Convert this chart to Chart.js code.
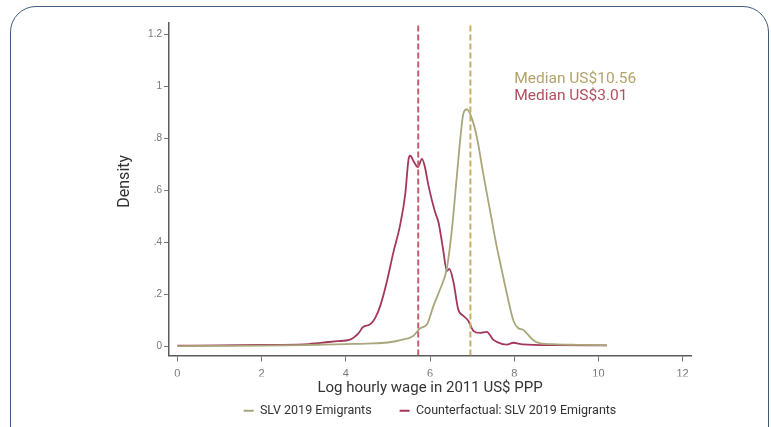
<!DOCTYPE html>
<html>
<head>
<meta charset="utf-8">
<title>Log hourly wage density</title>
<script src="https://cdn.jsdelivr.net/npm/chart.js@4.4.1/dist/chart.umd.min.js"></script>
<style>
   html, body { margin: 0; padding: 0; background: #fff; width: 771px; height: 427px; overflow: hidden; }
   #frame {
      position: absolute; left: 10px; top: 6px; width: 757px; height: 450px;
      border: 1.5px solid #3f5d7d; border-radius: 26px;
   }
   #wrap { position: absolute; left: 0; top: 0; width: 771px; height: 427px; }
</style>
</head>
<body>
<div id="frame"></div>
<div id="wrap"><canvas id="densityChart" width="771" height="427"></canvas></div>
<script>
/*
* values: log hourly wage (x) against density (y)
*/
const emigrantX = [0, 1, 2, 3, 3.5, 4, 4.5, 5.0, 5.3, 5.6, 5.77, 5.93, 6.08, 6.24, 6.4, 6.52,
   6.64, 6.72, 6.79, 6.88, 7.0, 7.12, 7.27, 7.43, 7.59, 7.67, 7.83, 7.98, 8.1, 8.2, 8.3, 8.45,
   8.6, 9.0, 9.5, 10.2];
const emigrantY = [0.001, 0.002, 0.003, 0.005, 0.007, 0.009, 0.011, 0.015, 0.024, 0.04, 0.07,
   0.085, 0.155, 0.22, 0.3, 0.45, 0.66, 0.8, 0.895, 0.913, 0.875, 0.8, 0.66, 0.52, 0.38, 0.32,
   0.2, 0.1, 0.07, 0.065, 0.05, 0.025, 0.013, 0.008, 0.006, 0.004];

const counterX = [0, 1, 2, 3, 3.4, 3.8, 4.1, 4.3, 4.41, 4.58, 4.7, 4.82, 4.97, 5.13, 5.29, 5.41,
   5.49, 5.53, 5.62, 5.71, 5.81, 5.88, 5.96, 6.12, 6.2, 6.31, 6.4, 6.46, 6.56, 6.67, 6.79, 6.91,
   7.03, 7.19, 7.35, 7.5, 7.7, 7.83, 7.98, 8.2, 9.0, 10.2];
const counterY = [0.003, 0.004, 0.006, 0.008, 0.014, 0.02, 0.026, 0.05, 0.075, 0.085, 0.11,
   0.157, 0.246, 0.362, 0.467, 0.583, 0.72, 0.734, 0.71, 0.69, 0.722, 0.69, 0.622, 0.517, 0.479,
   0.375, 0.29, 0.298, 0.246, 0.143, 0.118, 0.099, 0.06, 0.052, 0.056, 0.026, 0.01, 0.007, 0.014,
   0.008, 0.005, 0.004];

const seriesNames = ['SLV 2019 Emigrants', 'Counterfactual: SLV 2019 Emigrants'];

// medians (x position of dashed lines) and their captions
const medianX = [6.96, 5.72];
const medianLabels = ['Median US$10.56', 'Median US$3.01'];

const xTickValues = [0, 2, 4, 6, 8, 10, 12];
const xTickLabels = ['0', '2', '4', '6', '8', '10', '12'];
const yTickValues = [0, 0.2, 0.4, 0.6, 0.8, 1, 1.2];
const yTickLabels = ['0', '.2', '.4', '.6', '.8', '1', '1.2'];

const X_MIN = -0.2, X_MAX = 12.2, Y_MIN = -0.035, Y_MAX = 1.245;
const CAPTION_X = 8.0, CAPTION_Y = [1.03, 0.965];

const narrowFont = "'Liberation Sans Narrow', 'Roboto', sans-serif";
const tickFont = "'Liberation Sans', Arial, sans-serif";
const olive = '#b3a36b';
const wine = '#b0505f';

/*
* pairs up x and y arrays into points for a linear x scale
*/
function toPoints(xs, ys) {
   return xs.map((x, i) => ({ x: x, y: ys[i] }));
}

/*
* a vertical line at a median, spanning the whole y range
*/
function medianLine(x, color) {
   return {
      label: 'median',
      data: [{ x: x, y: Y_MIN }, { x: x, y: Y_MAX }],
      borderColor: color,
      borderWidth: 2,
      borderDash: [6, 3],
      pointRadius: 0,
      fill: false
   };
}

/*
* writes the two median captions next to the peaks
*/
const medianCaptions = {
   id: 'medianCaptions',
   afterDatasetsDraw(chart) {
      const { ctx, scales: { x, y } } = chart;
      const colors = [olive, wine];
      ctx.save();
      ctx.font = '15.5px ' + narrowFont;
      ctx.textBaseline = 'middle';
      ctx.textAlign = 'left';
      medianLabels.forEach((text, i) => {
         ctx.fillStyle = colors[i];
         ctx.fillText(text, x.getPixelForValue(CAPTION_X), y.getPixelForValue(CAPTION_Y[i]));
      });
      ctx.restore();
   }
};

function createDensityChart() {
   const canvas = document.querySelector('#densityChart');

   const chartData = {
      datasets: [
         medianLine(medianX[1], '#c85c70'),
         medianLine(medianX[0], '#c9ac6c'),
         {
            label: seriesNames[0],
            data: toPoints(emigrantX, emigrantY),
            borderColor: '#a9a67c',
            borderWidth: 1.8,
            pointRadius: 0,
            cubicInterpolationMode: 'monotone',
            fill: false
         },
         {
            label: seriesNames[1],
            data: toPoints(counterX, counterY),
            borderColor: '#a3385a',
            borderWidth: 1.8,
            pointRadius: 0,
            cubicInterpolationMode: 'monotone',
            fill: false
         }
      ]
   };

   const chartOptions = {
      responsive: false,
      animation: false,
      devicePixelRatio: 1,
      layout: {
         padding: { left: 111, right: 80, top: 23, bottom: 0 }
      },
      scales: {
         x: {
            type: 'linear',
            min: X_MIN,
            max: X_MAX,
            afterBuildTicks: scale => {
               scale.ticks = xTickValues.map(v => ({ value: v }));
            },
            afterFit: scale => { scale.height = 21; },
            border: { color: '#5a5a5a', width: 1.5 },
            grid: { drawOnChartArea: false, tickLength: 6, color: '#777' },
            ticks: {
               padding: 6,
               color: '#777',
               font: { family: tickFont, size: 11 },
               callback: (value, index) => xTickLabels[index]
            },
            title: {
               display: true,
               text: 'Log hourly wage in 2011 US$ PPP',
               color: '#333',
               font: { family: narrowFont, size: 15 },
               padding: { top: 0, bottom: -20.5 }
            }
         },
         y: {
            min: Y_MIN,
            max: Y_MAX,
            afterBuildTicks: scale => {
               scale.ticks = yTickValues.map(v => ({ value: v }));
            },
            afterFit: scale => { scale.width = 58; },
            border: { color: '#5a5a5a', width: 1.5 },
            grid: { drawOnChartArea: false, tickLength: 5, color: '#777' },
            ticks: {
               padding: 2,
               color: '#777',
               font: { family: tickFont, size: 10 },
               callback: (value, index) => yTickLabels[index]
            },
            title: {
               display: true,
               text: '    Density',
               color: '#333',
               font: { family: narrowFont, size: 16 },
               padding: { top: 4, bottom: 4 }
            }
         }
      },
      plugins: {
         legend: {
            position: 'bottom',
            fullSize: false,
            labels: {
               filter: item => item.datasetIndex >= 2,
               usePointStyle: true,
               pointStyle: 'line',
               pointStyleWidth: 10,
               padding: 28,
               color: '#333',
               font: { family: narrowFont, size: 12.5 }
            }
         },
         tooltip: { enabled: false }
      }
   };

   return new Chart(canvas, {
      type: 'line',
      data: chartData,
      options: chartOptions,
      plugins: [medianCaptions]
   });
}

createDensityChart();
</script>
</body>
</html>
